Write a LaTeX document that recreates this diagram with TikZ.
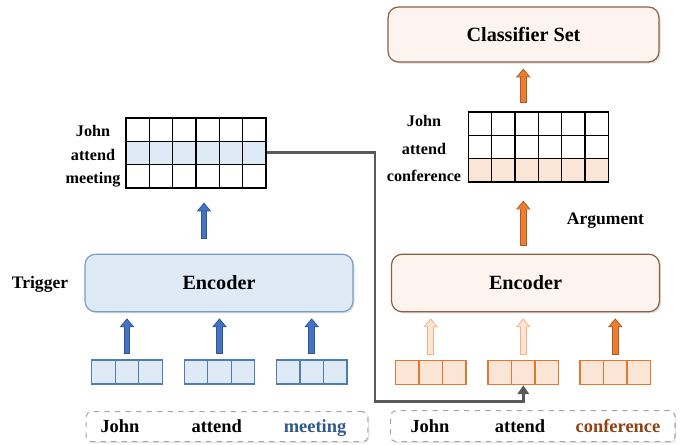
\documentclass[tikz,border=0pt]{standalone}
\usepackage{fontspec}
\setmainfont{Liberation Serif}
\usepackage{tikz}
\usetikzlibrary{arrows.meta,calc,shadows}
\definecolor{trgfill}{HTML}{DEEBF7}
\definecolor{trgline}{HTML}{7A9CC6}
\definecolor{trgbox}{HTML}{4F7CB8}
\definecolor{trgarrow}{HTML}{4472C4}
\definecolor{trgarrowline}{HTML}{2F5597}
\definecolor{trgword}{HTML}{2E5A88}
\definecolor{argfill}{HTML}{FBE5D6}
\definecolor{argpale}{HTML}{FDF4EF}
\definecolor{argline}{HTML}{8B6246}
\definecolor{argbox}{HTML}{E0782F}
\definecolor{argarrow}{HTML}{ED7D31}
\definecolor{argarrowline}{HTML}{B05A1E}
\definecolor{argfaint}{HTML}{F4B183}
\definecolor{argword}{HTML}{8E4314}
\definecolor{linkgray}{HTML}{595959}

% outline colour, fill colour, from, to
\newcommand{\blockup}[4]{%
  \draw[line width=3.8pt,#1,-{Triangle[width=8.4pt,length=5pt,line width=0pt]}] #3 -- #4;
  \draw[line width=2.6pt,#2,shorten <=0.6pt,shorten >=0.9pt,-{Triangle[width=6.4pt,length=3.7pt,line width=0pt]}] #3 -- #4;}

\begin{document}
\begin{tikzpicture}[x=0.02cm,y=-0.02cm,
    enc/.style={rounded corners=6pt,minimum width=5.36cm,minimum height=1.15cm,
      line width=0.7pt,font=\fontsize{11.5}{13}\selectfont\bfseries,
      drop shadow={opacity=0.25,shadow xshift=0.9pt,shadow yshift=-0.9pt}},
    cls/.style={enc,minimum width=5.42cm,minimum height=1.1cm},
    gcell/.style={draw=black,line width=0.8pt,minimum size=0.4667cm,inner sep=0pt},
    tok/.style={line width=0.7pt,minimum width=0.47cm,minimum height=0.48cm,inner sep=0pt},
    rowlab/.style={font=\fontsize{9.2}{11}\selectfont\bfseries,anchor=base},
    word/.style={font=\fontsize{10.5}{12}\selectfont\bfseries,anchor=base},
    side/.style={font=\fontsize{10}{12}\selectfont\bfseries,anchor=base},
    sentence/.style={draw=gray!70,fill=white,dashed,rounded corners=3pt,line width=0.6pt,
      drop shadow={opacity=0.2,shadow xshift=0.8pt,shadow yshift=-0.8pt}},
    link/.style={draw=linkgray,line width=1.7pt,-{Triangle[width=6.5pt,length=5pt]}}]
  \useasboundingbox (0,0) rectangle (681,445);

  \path
  (219,283) node[enc,fill=trgfill,draw=trgline] (lenc) {Encoder}
  (525.5,283) node[enc,fill=argpale,draw=argline] (renc) {Encoder}
  (523.5,34.5) node[cls,fill=argpale,draw=argline] (cls) {Classifier Set}
  (40,288.3) node[side] (trg) {Trigger}
  (605.5,225) node[side] (argm) {Argument}
  ;

  % hidden states
  \foreach \r/\f in {1/white,2/trgfill,3/white}
    \foreach \c in {1,...,6}
      \node[gcell,fill=\f] (lg\r\c) at ({126+23.33*(\c-0.5)},{118+23.33*(\r-0.5)}) {};
  \foreach \r/\f in {1/white,2/white,3/argfill}
    \foreach \c in {1,...,6}
      \node[gcell,fill=\f] (rg\r\c) at ({468.3+23.33*(\c-0.5)},{112+23.33*(\r-0.5)}) {};

  \path
  (93,137) node[rowlab] (ljohn) {John}
  (93,161) node[rowlab] (lattend) {attend}
  (93,184) node[rowlab] (lmeeting) {meeting}
  (424,126.7) node[rowlab] (rjohn) {John}
  (424,154.3) node[rowlab] (rattend) {attend}
  (424,181.7) node[rowlab] (rconf) {conference}
  ;

  % word embeddings
  \foreach \i/\x in {1/127,2/219.5,3/311.7}
    \foreach \j in {1,2,3}
      \node[tok,fill=trgfill,draw=trgbox] (lt\i\j) at ({\x+23.5*(\j-2)},372) {};
  \foreach \i/\x in {1/430.7,2/523.3,3/615.3}
    \foreach \j in {1,2,3}
      \node[tok,fill=argfill,draw=argbox] (rt\i\j) at ({\x+23.5*(\j-2)},372.7) {};

  \path
  (227,426.7) node[sentence,minimum width=5.64cm,minimum height=0.6cm] (lsent) {}
  (532.8,426.2) node[sentence,minimum width=5.69cm,minimum height=0.62cm] (rsent) {}
  (120,433) node[word] (w1) {John}
  (216.7,433) node[word] (w2) {attend}
  (315,433) node[word,text=trgword] (w3) {meeting}
  (430,433) node[word] (w4) {John}
  (520,433) node[word] (w5) {attend}
  (618,433) node[word,text=argword] (w6) {conference}
  ;

  \foreach \i in {1,2,3}
    {\blockup{trgarrowline}{trgarrow}{($(lt\i2.north)+(0,-5)$)}{($(lenc.south -| lt\i2)+(0,6)$)}}
  \foreach \i in {1,2}
    {\blockup{argfaint}{argfill}{($(rt\i2.north)+(0,-5)$)}{($(renc.south -| rt\i2)+(0,6)$)}}
  \blockup{argarrowline}{argarrow}{($(rt32.north)+(0,-5)$)}{($(renc.south -| rt32)+(0,6)$)}

  \blockup{trgarrowline}{trgarrow}{($(lenc.north)+(-15,-15)$)}{($(lenc.north)+(-15,-51)$)}
  \blockup{argarrowline}{argarrow}{($(renc.north -| rt22)+(0,-8)$)}{($(rg36.south -| rt22)+(0,18)$)}
  \blockup{argarrowline}{argarrow}{($(rg16.north -| rt22)+(0,-8)$)}{($(cls.south -| rt22)+(0,6)$)}

  \coordinate (bend) at (375,402);
  \draw[link] (lg26.east) -| (bend) -| (rt22.south);
\end{tikzpicture}
\end{document}
